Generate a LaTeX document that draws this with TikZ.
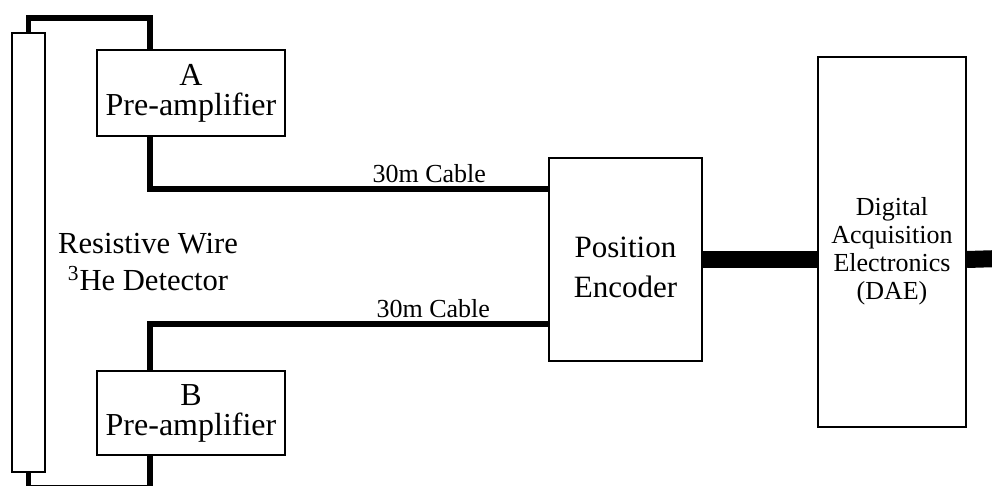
\documentclass[tikz,border=0pt]{standalone}
\usepackage{fontspec}
\setmainfont{Liberation Serif}

\begin{document}
\begin{tikzpicture}[
  x=0.5pt, y=-0.5pt,
  unit/.style={
    draw=black,
    line width=1pt,
    inner sep=1pt,
    align=center,
  },
  wire/.style={
    line width=2.6pt,
  },
  bus/.style={
    line width=8.5pt,
  },
  cable label/.style={
    font=\fontsize{13}{14}\selectfont,
    above=2pt,
    inner sep=0pt,
  },
]
\useasboundingbox (0,0) rectangle (992,486);

\node[unit, minimum width=16.5pt, minimum height=219.5pt] (det) at (28.5,252.5) {};
\node[align=center, font=\fontsize{15.3}{18.5}\selectfont] (detText) at (148,262)
  {Resistive Wire\\\textsuperscript{3}He Detector};

\node[unit, minimum width=94pt, minimum height=43pt,
  font=\fontsize{16}{15}\selectfont] (preA) at (191,93) {A\\Pre-amplifier};
\node[unit, minimum width=94pt, minimum height=42pt,
  font=\fontsize{16}{15}\selectfont] (preB) at (191,413) {B\\Pre-amplifier};

% boxes, with their texts set a little low
\node[unit, minimum width=76.5pt, minimum height=101.5pt] (enc) at (625.5,259.5) {};
\node[align=center, font=\fontsize{15.5}{20}\selectfont] (encText) at (625.5,267)
  {Position\\Encoder};
\node[unit, minimum width=74pt, minimum height=185pt] (dae) at (892,242) {};
\node[align=center, font=\fontsize{13}{14}\selectfont] (daeText) at (892,251)
  {Digital\\Acquisition\\Electronics\\(DAE)};

% wire taps and cable ends
\coordinate (tapA) at (150,18);
\coordinate (tapB) at (150,488);
\coordinate (cableA) at (549,189);
\coordinate (cableB) at (549,324);
\coordinate (daeOut) at (1000,258.5);

\draw[wire] (det.north) |- (tapA) -- (tapA |- preA.north);
\draw[wire] (tapA |- preA.south) |- (cableA) node[cable label, pos=0.85] {30m Cable};
\draw[wire] (det.south) |- (tapB) -- (tapB |- preB.south);
\draw[wire] (tapB |- preB.north) |- (cableB) node[cable label, pos=0.855] {30m Cable};

\draw[bus] (enc.east) -- (enc.east -| dae.west);
\draw[bus] (dae.east |- enc.east) -- (daeOut);
\end{tikzpicture}
\end{document}
